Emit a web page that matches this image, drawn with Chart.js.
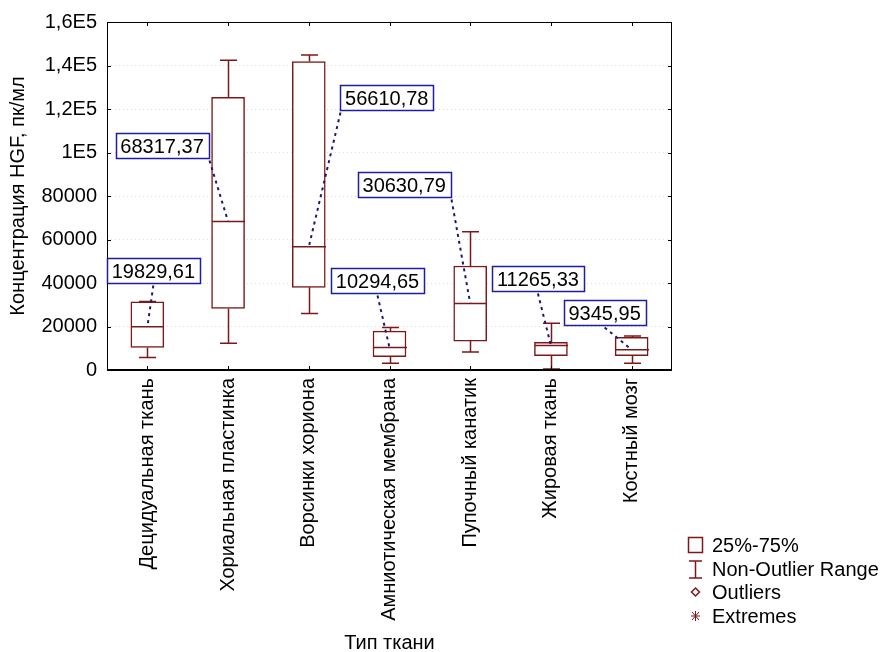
<!DOCTYPE html>
<html>
<head>
<meta charset="utf-8">
<title>HGF</title>
<script src="https://cdn.jsdelivr.net/npm/chart.js@4/dist/chart.umd.min.js"></script>
<style>
    html, body { margin: 0; padding: 0; background: #fff; }
    #wrap { width: 880px; height: 652px; }
</style>
</head>
<body>
<div id="wrap"><canvas id="hgfChart" width="880" height="652"></canvas></div>
<script>
// Tissue types (categories).
const categories = [
    'Децидуальная ткань',
    'Хориальная пластинка',
    'Ворсинки хориона',
    'Амниотическая мембрана',
    'Пупочный канатик',
    'Жировая ткань',
    'Костный мозг'
];

// Box plot values, pg/ml.
const medians      = [19829.61, 68317.37, 56610.78, 10294.65, 30630.79, 11265.33, 9345.95];
const q1           = [10400, 28300, 38000, 6100, 13300, 6600, 6600];
const q3           = [31400, 125400, 141800, 17900, 47800, 12700, 15000];
const whiskerLow   = [5800, 12300, 26000, 3100, 8300, 500, 3100];
const whiskerHigh  = [31500, 142400, 144800, 19500, 63600, 21500, 15600];

// Axis tick labels.
const yTickLabels = ['0', '20000', '40000', '60000', '80000', '1E5', '1,2E5', '1,4E5', '1,6E5'];

// Legend entries.
const legendLabels = ['25%-75%', 'Non-Outlier Range', 'Outliers', 'Extremes'];

// Where each median callout sits, relative to its median (px).
const calloutOffsets = [
    [6, -56], [-66, -76], [78, -149], [-12, -67], [-66, -119], [-13, -67], [-27, -37]
];

const FONT = 'Liberation Sans, Arial, sans-serif';
const FONT_SIZE = 20;
const BOX_COLOR = '#7d1818';
const LABEL_BORDER = '#1c1ca8';
const LEADER_COLOR = '#1a1a70';

// Helper: format a number with a decimal comma.
const fmt = (v) => v.toFixed(2).replace('.', ',');

// Draws frame, inward ticks, whiskers, medians, callouts and legend.
const boxPlotExtras = {
    id: 'boxPlotExtras',
    afterDatasetsDraw(chart) {
        const ctx = chart.ctx;
        const area = chart.chartArea;
        const xs = chart.scales.x;
        const ys = chart.scales.y;

        ctx.save();

        // whiskers + medians
        ctx.strokeStyle = BOX_COLOR;
        ctx.lineWidth = 1.5;
        categories.forEach((c, i) => {
            const x = Math.round(xs.getPixelForValue(i)) + 0.5;
            const capHalf = 8.5;
            const yq1 = ys.getPixelForValue(q1[i]);
            const yq3 = ys.getPixelForValue(q3[i]);
            const yLo = ys.getPixelForValue(whiskerLow[i]);
            const yHi = ys.getPixelForValue(whiskerHigh[i]);
            const yMed = ys.getPixelForValue(medians[i]);

            ctx.beginPath();
            ctx.moveTo(x, yq3); ctx.lineTo(x, yHi);
            ctx.moveTo(x - capHalf, yHi); ctx.lineTo(x + capHalf, yHi);
            ctx.moveTo(x, yq1); ctx.lineTo(x, yLo);
            ctx.moveTo(x - capHalf, yLo); ctx.lineTo(x + capHalf, yLo);
            ctx.moveTo(x - 16.5, yMed); ctx.lineTo(x + 16.5, yMed);
            ctx.stroke();
        });

        // frame
        ctx.strokeStyle = '#000';
        ctx.lineWidth = 1;
        ctx.strokeRect(area.left + 0.5, area.top + 0.5, area.right - area.left - 1, area.bottom - area.top);
        ctx.lineWidth = 2;
        ctx.beginPath();
        ctx.moveTo(area.left, area.bottom); ctx.lineTo(area.right, area.bottom);
        ctx.stroke();

        // inward tick marks
        ctx.lineWidth = 1;
        ctx.beginPath();
        ys.ticks.forEach((t) => {
            const y = Math.round(ys.getPixelForValue(t.value)) + 0.5;
            ctx.moveTo(area.left, y); ctx.lineTo(area.left + 4, y);
            ctx.moveTo(area.right, y); ctx.lineTo(area.right - 4, y);
        });
        categories.forEach((c, i) => {
            const x = Math.round(xs.getPixelForValue(i)) + 0.5;
            ctx.moveTo(x, area.top); ctx.lineTo(x, area.top + 4);
            ctx.moveTo(x, area.bottom); ctx.lineTo(x, area.bottom - 4);
        });
        ctx.stroke();

        // median callouts
        ctx.font = FONT_SIZE + 'px ' + FONT;
        ctx.textAlign = 'center';
        ctx.textBaseline = 'middle';
        medians.forEach((m, i) => {
            const mx = xs.getPixelForValue(i);
            const my = ys.getPixelForValue(m);
            const text = fmt(m);
            const w = Math.round(ctx.measureText(text).width) + 10;
            const h = 25;
            const cx = mx + calloutOffsets[i][0];
            const cy = my + calloutOffsets[i][1];
            const left = Math.round(cx - w / 2) + 0.5;
            const top = Math.round(cy - h / 2) + 0.5;

            // leader starts at the bottom edge: centre if above, else nearest corner
            let sx = cx;
            if (mx < left) sx = left;
            else if (mx > left + w) sx = left + w;
            const sy = top + h + 2;

            ctx.strokeStyle = LEADER_COLOR;
            ctx.lineWidth = 2;
            ctx.setLineDash([3, 4]);
            ctx.beginPath();
            ctx.moveTo(sx, sy); ctx.lineTo(mx, my);
            ctx.stroke();
            ctx.setLineDash([]);

            ctx.fillStyle = '#fff';
            ctx.fillRect(left, top, w, h);
            ctx.strokeStyle = LABEL_BORDER;
            ctx.lineWidth = 1.5;
            ctx.strokeRect(left, top, w, h);
            ctx.fillStyle = '#000';
            ctx.fillText(text, cx, top + h / 2 + 1);
        });

        // legend
        const lx = 688, ly = 545, step = 23.5;
        ctx.textAlign = 'left';
        ctx.font = FONT_SIZE + 'px ' + FONT;
        legendLabels.forEach((lbl, i) => {
            const y = Math.round(ly + i * step);
            ctx.strokeStyle = BOX_COLOR;
            ctx.fillStyle = BOX_COLOR;
            ctx.lineWidth = 1.5;
            ctx.beginPath();
            if (i === 0) {
                ctx.rect(lx + 0.5, y - 7.5, 14, 15);
            } else if (i === 1) {
                ctx.moveTo(lx + 1, y - 8); ctx.lineTo(lx + 14, y - 8);
                ctx.moveTo(lx + 7.5, y - 8); ctx.lineTo(lx + 7.5, y + 9);
                ctx.moveTo(lx + 1, y + 9); ctx.lineTo(lx + 14, y + 9);
            } else if (i === 2) {
                ctx.moveTo(lx + 7.5, y - 4); ctx.lineTo(lx + 11.5, y);
                ctx.lineTo(lx + 7.5, y + 4); ctx.lineTo(lx + 3.5, y);
                ctx.closePath();
            } else {
                ctx.lineWidth = 1;
                ctx.moveTo(lx + 3, y); ctx.lineTo(lx + 12, y);
                ctx.moveTo(lx + 7.5, y - 5); ctx.lineTo(lx + 7.5, y + 5);
                ctx.moveTo(lx + 4, y - 4); ctx.lineTo(lx + 11, y + 4);
                ctx.moveTo(lx + 11, y - 4); ctx.lineTo(lx + 4, y + 4);
            }
            ctx.stroke();
            ctx.fillStyle = '#000';
            ctx.fillText(lbl, lx + 24, y + 1);
        });

        ctx.restore();
    }
};

const ctx = document.getElementById('hgfChart').getContext('2d');
const hgfChart = new Chart(ctx, {
    type: 'bar',
    data: {
        labels: categories,
        datasets: [{
            data: q1.map((v, i) => [v, q3[i]]),
            backgroundColor: '#fff',
            borderColor: BOX_COLOR,
            borderWidth: 1.5,
            borderSkipped: false,
            barThickness: 33
        }]
    },
    options: {
        responsive: false,
        animation: false,
        layout: {
            padding: { top: 22, right: 208, left: 0, bottom: 0 }
        },
        plugins: {
            legend: { display: false },
            tooltip: { enabled: false }
        },
        scales: {
            x: {
                grid: { display: false, drawTicks: false },
                border: { display: false },
                ticks: {
                    minRotation: 90,
                    maxRotation: 90,
                    padding: 8,
                    color: '#000',
                    font: { family: FONT, size: FONT_SIZE }
                },
                title: {
                    display: true,
                    text: 'Тип ткани',
                    color: '#000',
                    font: { family: FONT, size: FONT_SIZE },
                    padding: { top: 0, bottom: -3 }
                },
                afterFit: (s) => { s.height = 282; }
            },
            y: {
                min: 0,
                max: 160000,
                ticks: {
                    stepSize: 20000,
                    padding: 10,
                    color: '#000',
                    font: { family: FONT, size: FONT_SIZE },
                    callback: (v, i) => yTickLabels[i]
                },
                grid: { color: '#dcdcdc', drawTicks: false },
                border: { display: false, dash: [1, 3] },
                title: {
                    display: true,
                    text: 'Концентрация HGF, пк/мл',
                    color: '#000',
                    font: { family: FONT, size: FONT_SIZE },
                    padding: { top: 6, bottom: 0 }
                },
                afterFit: (s) => { s.width = 107; }
            }
        }
    },
    plugins: [boxPlotExtras]
});
</script>
</body>
</html>
